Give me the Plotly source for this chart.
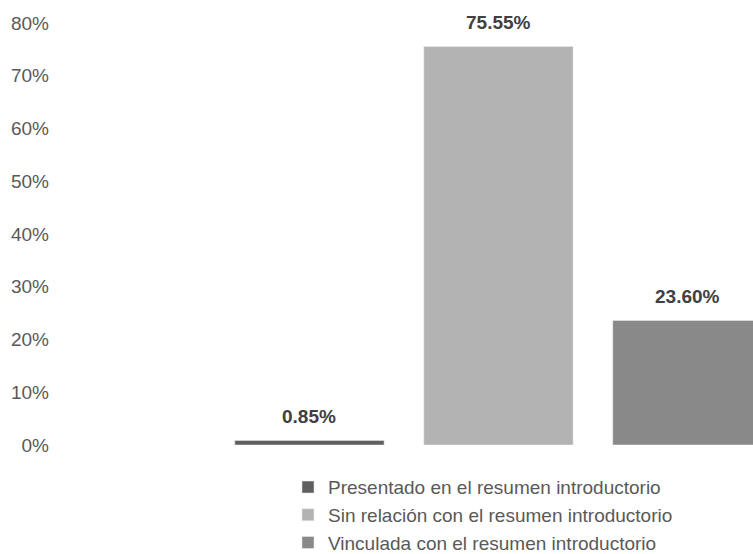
import plotly.graph_objects as go

categories = ["Presentado en el resumen introductorio",
              "Sin relación con el resumen introductorio",
              "Vinculada con el resumen introductorio"]
values = [0.0085, 0.7555, 0.2360]
labels = ["0.85%", "75.55%", "23.60%"]
colors = ["#5f5f5f", "#b3b3b3", "#898989"]
tick_vals = [0, 0.1, 0.2, 0.3, 0.4, 0.5, 0.6, 0.7, 0.8]
tick_text = ["0%", "10%", "20%", "30%", "40%", "50%", "60%", "70%", "80%"]

FONT = "Arial, 'Liberation Sans', sans-serif"

fig = go.Figure()
for i, (cat, v, c) in enumerate(zip(categories, values, colors)):
    fig.add_trace(go.Bar(x=[i], y=[v], name=cat, marker_color=c,
                         width=0.79, hoverinfo="skip"))
    fig.add_annotation(x=i, y=v, text="<b>%s</b>" % labels[i], showarrow=False,
                       yanchor="middle", yshift=24,
                       font=dict(family=FONT, size=19, color="#404040"))

fig.update_layout(
    width=753, height=554,
    margin=dict(l=60, r=0, t=23, b=109, autoexpand=False),
    paper_bgcolor="white", plot_bgcolor="white",
    barmode="overlay",
    showlegend=True,
    legend=dict(orientation="v",
                x=0.329, xanchor="left", y=-0.055, yanchor="top",
                font=dict(family=FONT, size=19, color="#595959"),
                tracegroupgap=0, itemwidth=30, bgcolor="rgba(0,0,0,0)"),
    font=dict(family=FONT, size=19, color="#595959"),
    hovermode=False,
)
fig.update_xaxes(range=[-1.32, 2.347], showticklabels=False, showgrid=False,
                 zeroline=False, showline=False, fixedrange=True)
fig.update_yaxes(range=[0, 0.8], tickvals=tick_vals, ticktext=tick_text,
                 showgrid=False, zeroline=False, showline=False,
                 ticklabelstandoff=10, fixedrange=True,
                 tickfont=dict(family=FONT, size=19, color="#595959"))

fig.write_html("out.html", config={"displayModeBar": False},
               post_script="document.body.style.margin='0';document.body.style.overflow='hidden';")
